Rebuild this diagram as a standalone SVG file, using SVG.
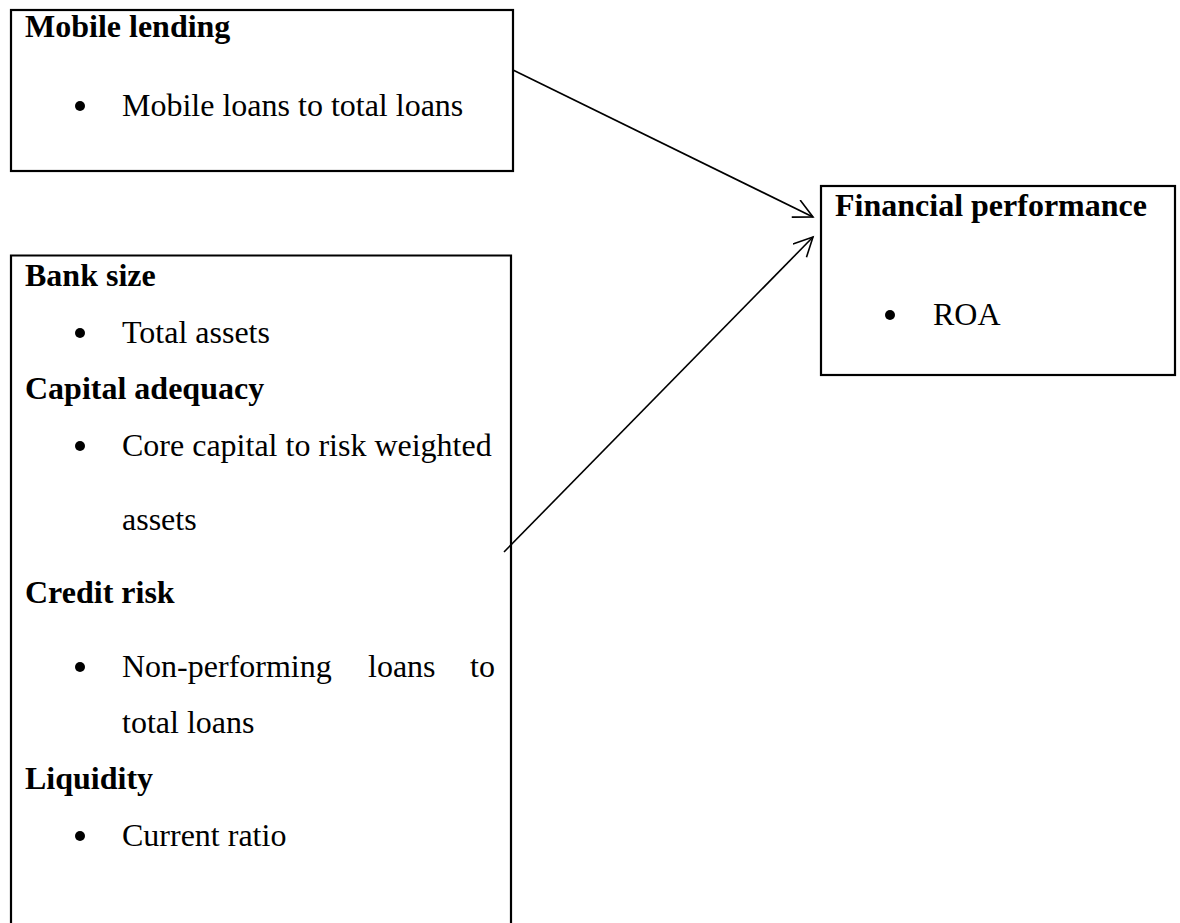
<svg xmlns="http://www.w3.org/2000/svg" width="1180" height="923" viewBox="0 0 1180 923">
<defs>
<style>
.box{fill:#fff;stroke:#000;stroke-width:2.2}
.h{font-family:"Liberation Serif","Times New Roman",serif;font-weight:bold;font-size:32px;fill:#000}
.t{font-family:"Liberation Serif","Times New Roman",serif;font-size:32px;fill:#000}
.b{fill:#000}
.edge{stroke:#000;stroke-width:1.6;fill:none}
</style>
<marker id="arr" markerUnits="userSpaceOnUse" markerWidth="30" markerHeight="30" refX="20" refY="10" orient="auto">
<path d="M1,0.5 L20,10 L1,19.5" fill="none" stroke="#000" stroke-width="1.6"/>
</marker>
</defs>
<rect width="1180" height="923" fill="#fff"/>
<g id="mobile-lending">
<rect class="box" x="11" y="10" width="502" height="161"/>
<text class="h" x="25" y="37">Mobile lending</text>
<circle class="b" cx="80" cy="106" r="5"/>
<text class="t" x="122" y="116">Mobile loans to total loans</text>
</g>
<g id="controls">
<path class="box" d="M11,930 V255.5 H511 V930"/>
<text class="h" x="25" y="286">Bank size</text>
<circle class="b" cx="80" cy="333" r="5"/>
<text class="t" x="122" y="343">Total assets</text>
<text class="h" x="25" y="399">Capital adequacy</text>
<circle class="b" cx="80" cy="446" r="5"/>
<text class="t" x="122" y="456">Core capital to risk weighted</text>
<text class="t" x="122" y="530">assets</text>
<text class="h" x="25" y="603">Credit risk</text>
<circle class="b" cx="80" cy="667" r="5"/>
<text class="t" x="122" y="677">Non-performing</text>
<text class="t" x="368" y="677">loans</text>
<text class="t" x="470" y="677">to</text>
<text class="t" x="122" y="733">total loans</text>
<text class="h" x="25" y="789">Liquidity</text>
<circle class="b" cx="80" cy="836" r="5"/>
<text class="t" x="122" y="846">Current ratio</text>
</g>
<g id="financial-performance">
<rect class="box" x="821" y="186" width="354" height="189"/>
<text class="h" x="835" y="216">Financial performance</text>
<circle class="b" cx="890" cy="315" r="5"/>
<text class="t" x="933" y="325">ROA</text>
</g>
<g id="connectors">
<line class="edge" x1="513" y1="70" x2="813" y2="217" marker-end="url(#arr)"/>
<line class="edge" x1="504" y1="552" x2="813" y2="237" marker-end="url(#arr)"/>
</g>
</svg>
